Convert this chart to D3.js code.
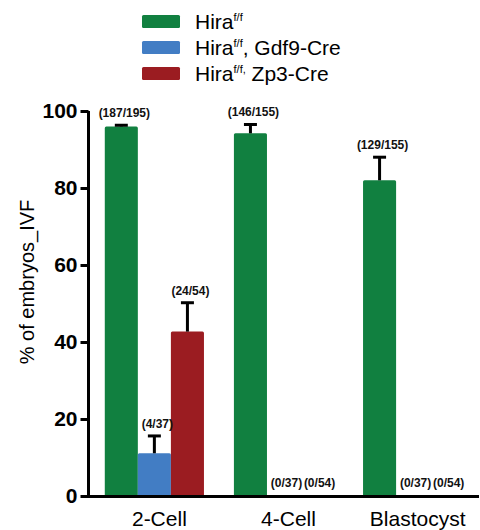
<!DOCTYPE html>
<html><head><meta charset="utf-8">
<script src="https://cdn.jsdelivr.net/npm/d3@7"></script>
<style>body{margin:0;background:#fff}svg{display:block;font-family:Arial,"Liberation Sans",sans-serif}</style>
</head><body><svg id="c" width="480" height="530"></svg>
<script>
const categories = ["2-Cell", "4-Cell", "Blastocyst"];
const seriesKeys = ["ff", "gdf9", "zp3"];
const seriesColors = ["#118040", "#427dc4", "#9b1c21"];
const legendBase = ["Hira", "Hira", "Hira"];
const legendSup = ["f/f", "f/f", "f/f,"];
const legendRest = ["", ", Gdf9-Cre", " Zp3-Cre"];
const valuesFF = [96.0, 94.2, 82.0];
const errFF = [0.3, 2.3, 6.0];
const valuesGdf9 = [11.1, 0, 0];
const errGdf9 = [4.5, 0, 0];
const valuesZp3 = [42.7, 0, 0];
const errZp3 = [7.5, 0, 0];
const labelsFF = ["(187/195)", "(146/155)", "(129/155)"];
const labelsGdf9 = ["(4/37)", "(0/37)", "(0/37)"];
const labelsZp3 = ["(24/54)", "(0/54)", "(0/54)"];
const yTicks = [0, 20, 40, 60, 80, 100];
const yTitle = "% of embryos_IVF";

const values = [valuesFF, valuesGdf9, valuesZp3];
const errs = [errFF, errGdf9, errZp3];
const labels = [labelsFF, labelsGdf9, labelsZp3];

const svg = d3.select("#c");
const y = d3.scaleLinear().domain([0, 100]).range([496, 111]);
const x0 = d3.scaleBand().domain(categories).range([88, 479]).paddingInner(0.232).paddingOuter(0.13);
const x1 = d3.scaleBand().domain(seriesKeys).range([0, x0.bandwidth()]);

const data = [];
categories.forEach((c, i) => seriesKeys.forEach((k, j) => {
  data.push({cat: c, key: k, color: seriesColors[j], v: values[j][i], e: errs[j][i], label: labels[j][i]});
}));

// bars
svg.append("g").selectAll("rect").data(data.filter(d => d.v > 0)).join("rect")
  .attr("x", d => x0(d.cat) + x1(d.key))
  .attr("width", x1.bandwidth())
  .attr("y", d => y(d.v))
  .attr("height", d => y(0) - y(d.v))
  .attr("rx", 1.5)
  .attr("fill", d => d.color);

// error bars
const eb = svg.append("g").attr("stroke", "#000").attr("stroke-width", 3);
data.filter(d => d.e > 0).forEach(d => {
  const cx = x0(d.cat) + x1(d.key) + x1.bandwidth() / 2;
  eb.append("line").attr("x1", cx).attr("x2", cx).attr("y1", y(d.v)).attr("y2", y(d.v + d.e));
  eb.append("line").attr("x1", cx - 6.5).attr("x2", cx + 6.5).attr("y1", y(d.v + d.e)).attr("y2", y(d.v + d.e));
});

// value labels
svg.append("g").selectAll("text").data(data).join("text")
  .attr("x", d => x0(d.cat) + x1(d.key) + x1.bandwidth() / 2 + 3)
  .attr("y", d => Math.min(y(d.v + d.e) - 8, 487))
  .attr("text-anchor", "middle")
  .attr("font-size", 12).attr("font-weight", "bold")
  .attr("fill", "#111")
  .text(d => d.label);

// y axis
const yAxis = svg.append("g").attr("transform", "translate(88.5,0)")
  .call(d3.axisLeft(y).tickValues(yTicks).tickSize(8).tickSizeOuter(0).tickPadding(3));
yAxis.select(".domain").remove();
yAxis.append("line").attr("x1", 0).attr("x2", 0).attr("y1", y(100)).attr("y2", y(0) + 1.5).attr("stroke", "#000").attr("stroke-width", 3);
yAxis.selectAll(".tick line").attr("stroke", "#000").attr("stroke-width", 3);
yAxis.selectAll(".tick text").attr("font-size", 21).attr("font-weight", "bold").attr("fill", "#000")
  .attr("font-family", "Arial, 'Liberation Sans', sans-serif");

// x axis
const xAxis = svg.append("g").attr("transform", "translate(0,496.5)")
  .call(d3.axisBottom(x0).tickSize(0).tickPadding(15));
xAxis.select(".domain").remove();
xAxis.append("line").attr("x1", 87).attr("x2", 479).attr("stroke", "#000").attr("stroke-width", 3);
xAxis.selectAll(".tick text").attr("font-size", 21).attr("fill", "#000").attr("dx", 5)
  .attr("font-family", "Arial, 'Liberation Sans', sans-serif");

// y title
svg.append("text").attr("transform", "translate(34,282) rotate(-90)")
  .attr("text-anchor", "middle").attr("font-size", 20).attr("fill", "#000").text(yTitle);

// legend
const lg = svg.append("g");
seriesKeys.forEach((k, i) => {
  const yy = 15 + i * 26;
  lg.append("rect").attr("x", 142).attr("y", yy).attr("width", 38).attr("height", 13).attr("rx", 1.5).attr("fill", seriesColors[i]);
  const t = lg.append("text").attr("x", 195).attr("y", yy + 14).attr("font-size", 21).attr("fill", "#000");
  t.append("tspan").text(legendBase[i]);
  t.append("tspan").attr("font-size", 11).attr("dy", -8).text(legendSup[i]);
  t.append("tspan").attr("dy", 8).text(legendRest[i]);
});
</script></body></html>
